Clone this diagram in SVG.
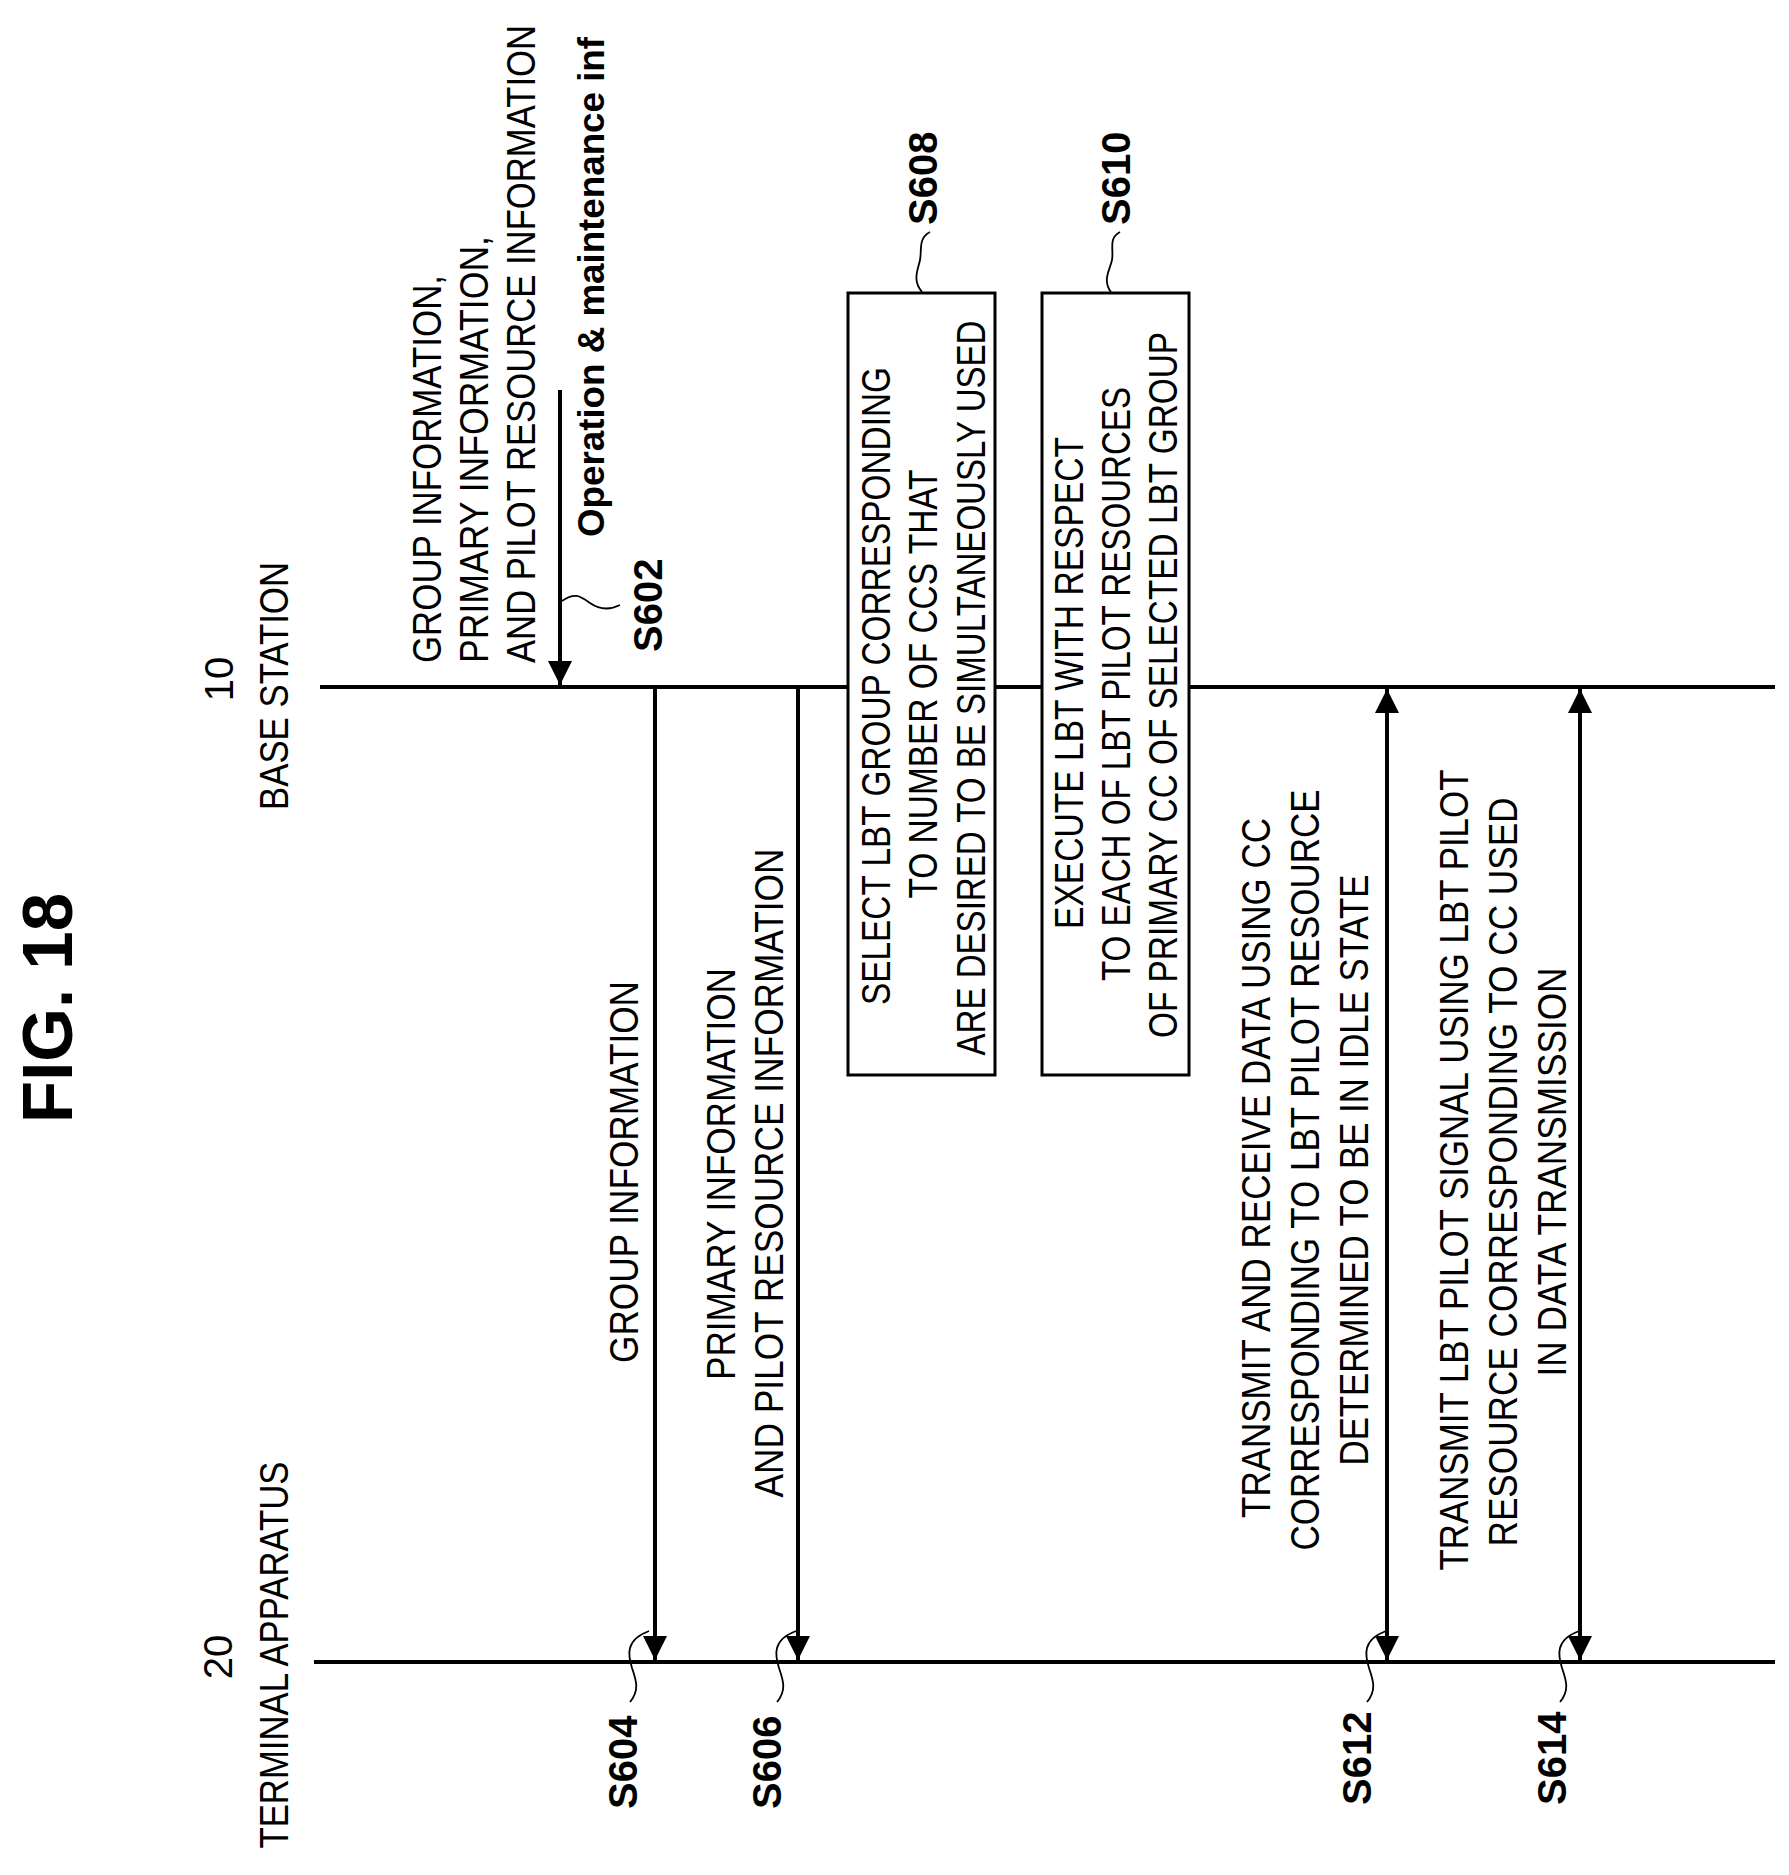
<svg xmlns="http://www.w3.org/2000/svg" width="1789" height="1875" viewBox="0 0 1789 1875">
<style>
text{font-family:"Liberation Sans",Arial,sans-serif;fill:#000;font-size:40px}
.b{font-weight:bold}
.m{text-anchor:middle}
.ln{stroke:#000;stroke-width:4;fill:none}
.sq{stroke:#000;stroke-width:1.8;fill:none}
.box{stroke:#000;stroke-width:3;fill:#fff}
</style>
<defs>
<marker id="ah" viewBox="0 0 24 34" refX="24" refY="17" markerWidth="24" markerHeight="34" markerUnits="userSpaceOnUse" orient="auto-start-reverse"><path d="M0,5 L24,17 L0,29 Z" fill="#000"/></marker>
</defs>
<text class="b m" style="font-size:70px" transform="translate(72,1008) rotate(-90)" textLength="230" lengthAdjust="spacingAndGlyphs">FIG. 18</text>
<g id="base">
<line class="ln" x1="320" y1="687" x2="1775" y2="687"/>
<text class="m" transform="translate(233,679) rotate(-90)">10</text>
<text class="m" transform="translate(288,686) rotate(-90)" textLength="248" lengthAdjust="spacingAndGlyphs">BASE STATION</text>
</g>
<g id="terminal">
<line class="ln" x1="314" y1="1662" x2="1775" y2="1662"/>
<text class="m" transform="translate(232,1657) rotate(-90)">20</text>
<text class="m" transform="translate(288,1655) rotate(-90)" textLength="387" lengthAdjust="spacingAndGlyphs">TERMINAL APPARATUS</text>
</g>
<g id="s602">
<text transform="translate(441,663) rotate(-90)" textLength="388" lengthAdjust="spacingAndGlyphs">GROUP INFORMATION,</text>
<text transform="translate(488,663) rotate(-90)" textLength="427" lengthAdjust="spacingAndGlyphs">PRIMARY INFORMATION,</text>
<text transform="translate(535,663) rotate(-90)" textLength="638" lengthAdjust="spacingAndGlyphs">AND PILOT RESOURCE INFORMATION</text>
<text class="b" style="font-size:36px" transform="translate(604,537) rotate(-90)" textLength="500" lengthAdjust="spacingAndGlyphs">Operation &amp; maintenance inf</text>
<text class="b" transform="translate(662,652) rotate(-90)">S602</text>
</g>
<g id="s608">
<rect class="box" x="848" y="293" width="147" height="782"/>
<text class="m" transform="translate(890,686) rotate(-90)" textLength="638" lengthAdjust="spacingAndGlyphs">SELECT LBT GROUP CORRESPONDING</text>
<text class="m" transform="translate(937,684) rotate(-90)" textLength="429" lengthAdjust="spacingAndGlyphs">TO NUMBER OF CCS THAT</text>
<text class="m" transform="translate(985,688) rotate(-90)" textLength="735" lengthAdjust="spacingAndGlyphs">ARE DESIRED TO BE SIMULTANEOUSLY USED</text>
<text class="b" transform="translate(937,225) rotate(-90)">S608</text>
</g>
<g id="s610">
<rect class="box" x="1042" y="293" width="147" height="782"/>
<text class="m" transform="translate(1083,683) rotate(-90)" textLength="492" lengthAdjust="spacingAndGlyphs">EXECUTE LBT WITH RESPECT</text>
<text class="m" transform="translate(1130,684) rotate(-90)" textLength="594" lengthAdjust="spacingAndGlyphs">TO EACH OF LBT PILOT RESOURCES</text>
<text class="m" transform="translate(1177,685) rotate(-90)" textLength="706" lengthAdjust="spacingAndGlyphs">OF PRIMARY CC OF SELECTED LBT GROUP</text>
<text class="b" transform="translate(1130,225) rotate(-90)">S610</text>
</g>
<g id="s604">
<text class="m" transform="translate(638,1172) rotate(-90)" textLength="382" lengthAdjust="spacingAndGlyphs">GROUP INFORMATION</text>
<text class="b" transform="translate(637,1809) rotate(-90)">S604</text>
</g>
<g id="s606">
<text class="m" transform="translate(735,1174) rotate(-90)" textLength="412" lengthAdjust="spacingAndGlyphs">PRIMARY INFORMATION</text>
<text class="m" transform="translate(783,1173) rotate(-90)" textLength="649" lengthAdjust="spacingAndGlyphs">AND PILOT RESOURCE INFORMATION</text>
<text class="b" transform="translate(781,1809) rotate(-90)">S606</text>
</g>
<g id="s612">
<text class="m" transform="translate(1270,1168) rotate(-90)" textLength="700" lengthAdjust="spacingAndGlyphs">TRANSMIT AND RECEIVE DATA USING CC</text>
<text class="m" transform="translate(1319,1170) rotate(-90)" textLength="761" lengthAdjust="spacingAndGlyphs">CORRESPONDING TO LBT PILOT RESOURCE</text>
<text class="m" transform="translate(1368,1170) rotate(-90)" textLength="591" lengthAdjust="spacingAndGlyphs">DETERMINED TO BE IN IDLE STATE</text>
<text class="b" transform="translate(1371,1805) rotate(-90)">S612</text>
</g>
<g id="s614">
<text class="m" transform="translate(1468,1170) rotate(-90)" textLength="801" lengthAdjust="spacingAndGlyphs">TRANSMIT LBT PILOT SIGNAL USING LBT PILOT</text>
<text class="m" transform="translate(1517,1172) rotate(-90)" textLength="749" lengthAdjust="spacingAndGlyphs">RESOURCE CORRESPONDING TO CC USED</text>
<text class="m" transform="translate(1566,1172) rotate(-90)" textLength="409" lengthAdjust="spacingAndGlyphs">IN DATA TRANSMISSION</text>
<text class="b" transform="translate(1566,1805) rotate(-90)">S614</text>
</g>
<g id="connectors">
<line class="ln" x1="560" y1="390" x2="560" y2="685" marker-end="url(#ah)"/>
<line class="ln" x1="655" y1="689" x2="655" y2="1660" marker-end="url(#ah)"/>
<line class="ln" x1="798" y1="689" x2="798" y2="1660" marker-end="url(#ah)"/>
<line class="ln" x1="1387" y1="689" x2="1387" y2="1660" marker-start="url(#ah)" marker-end="url(#ah)"/>
<line class="ln" x1="1580" y1="689" x2="1580" y2="1660" marker-start="url(#ah)" marker-end="url(#ah)"/>
<path class="sq" d="M562,601 C575,592 580,596 590,603 C600,610 610,610 620,605"/>
<path class="sq" d="M922,292 C912,280 918,270 920,260 C922,250 918,238 930,232"/>
<path class="sq" d="M1111,292 C1102,280 1110,270 1112,260 C1114,250 1108,238 1120,232"/>
<path class="sq" d="M649,1631 C625,1640 628,1655 632,1668 C636,1680 640,1690 630,1702"/>
<path class="sq" d="M796,1631 C772,1640 775,1655 779,1668 C783,1680 787,1690 777,1702"/>
<path class="sq" d="M1386,1631 C1362,1640 1365,1655 1369,1668 C1373,1680 1377,1690 1367,1702"/>
<path class="sq" d="M1579,1631 C1555,1640 1558,1655 1562,1668 C1566,1680 1570,1690 1560,1702"/>
</g>
</svg>
